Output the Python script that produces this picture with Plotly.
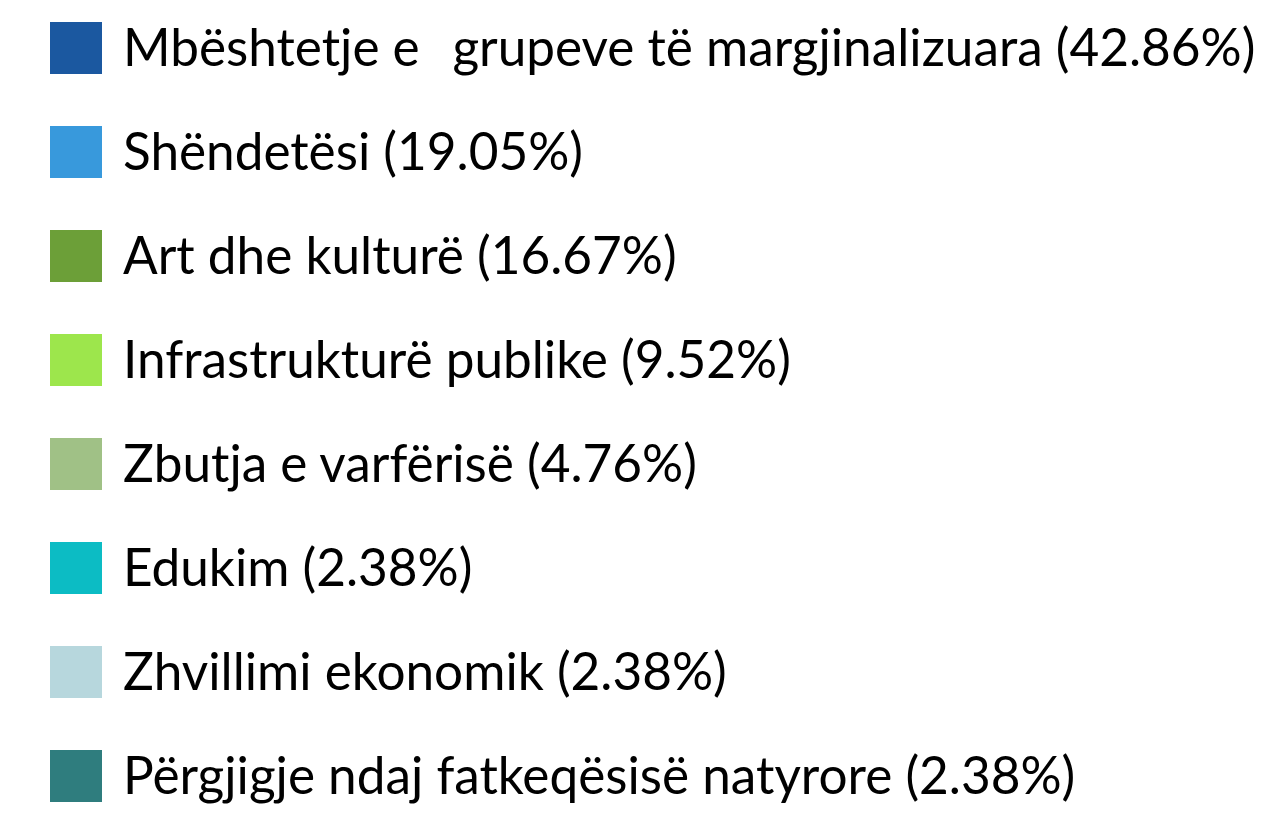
import plotly.graph_objects as go

categories = [
    "Mbështetje e\u00a0\u2009 grupeve të margjinalizuara",
    "Shëndetësi",
    "Art dhe kulturë",
    "Infrastrukturë publike",
    "Zbutja e varfërisë",
    "Edukim",
    "Zhvillimi ekonomik",
    "Përgjigje ndaj fatkeqësisë natyrore",
]
shares = [42.86, 19.05, 16.67, 9.52, 4.76, 2.38, 2.38, 2.38]
colors = ["#1b58a0", "#3899dc", "#6c9f38", "#9de64c", "#a0c186", "#0cbcc4", "#b7d7dd", "#2f7d7e"]

labels = [f"{c} ({s:.2f}%)" for c, s in zip(categories, shares)]
rows = list(range(len(categories)))

fig = go.Figure()
fig.add_trace(go.Scatter(
    x=[68] * len(rows), y=rows, mode="markers",
    marker=dict(symbol="square", size=52, color=colors, line=dict(width=0)),
    hoverinfo="skip", showlegend=False,
))
fig.add_trace(go.Scatter(
    x=[115] * len(rows), y=rows, mode="text", text=labels,
    textposition="middle right", yaxis="y2",
    textfont=dict(family="Lato", size=51.3, color="#000000"),
    hoverinfo="skip", showlegend=False,
))
fig.update_layout(
    width=1284, height=816,
    margin=dict(l=0, r=0, t=0, b=0),
    paper_bgcolor="white", plot_bgcolor="white",
    xaxis=dict(range=[0, 1284], visible=False, fixedrange=True),
    yaxis=dict(range=[7.4615, -0.3846], visible=False, fixedrange=True),
    yaxis2=dict(range=[7.4135, -0.4327], visible=False, fixedrange=True,
                overlaying="y"),
)
fig.write_html("out.html")
